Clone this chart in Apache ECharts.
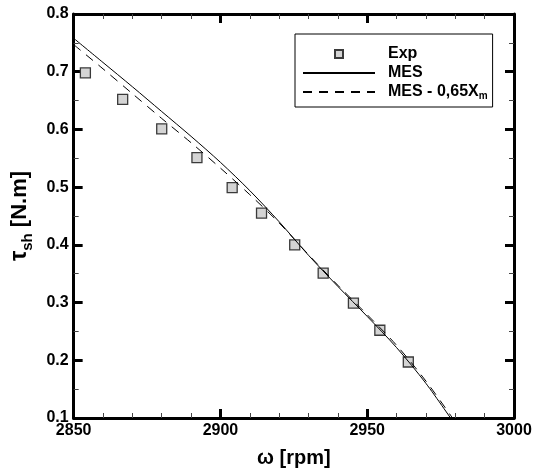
<!DOCTYPE html>
<html>
<head>
<meta charset="utf-8">
<script src="https://cdn.jsdelivr.net/npm/echarts@6/dist/echarts.min.js"></script>
<style>
  html, body { margin: 0; padding: 0; background: #fff; }
  #chart { width: 535px; height: 473px; }
</style>
</head>
<body>
<div id="chart"></div>
<script>
// Shaft torque vs. rotor speed: measurements and two model curves
const expSpeed  = [2854, 2866.7, 2880, 2892, 2904, 2914, 2925.3, 2935, 2945.3, 2954.3, 2964];
const expTorque = [0.698, 0.652, 0.601, 0.551, 0.499, 0.455, 0.400, 0.351, 0.299, 0.252, 0.197];

const mesSpeed  = [2850, 2860, 2870, 2880, 2890, 2900, 2910, 2920, 2930, 2940, 2950, 2960, 2970, 2980];
const mesTorque = [0.758, 0.716, 0.674, 0.631, 0.588, 0.543, 0.494, 0.440, 0.382, 0.328, 0.276, 0.222, 0.160, 0.088];

const mesXmSpeed  = [2850, 2860, 2870, 2880, 2890, 2900, 2910, 2920, 2930, 2940, 2950, 2960, 2970, 2980];
const mesXmTorque = [0.747, 0.705, 0.662, 0.619, 0.577, 0.533, 0.487, 0.438, 0.383, 0.330, 0.279, 0.226, 0.164, 0.093];

const xTicks = [2850, 2900, 2950, 3000];
const yTicks = [0.1, 0.2, 0.3, 0.4, 0.5, 0.6, 0.7, 0.8];

const pairs = (xs, ys) => xs.map((x, i) => [x, ys[i]]);

const FONT = '"Liberation Sans", Arial, Helvetica, sans-serif';

const frameAxis = {
  axisLine: { show: true, onZero: false, lineStyle: { color: '#000', width: 3 } },
  axisTick: { show: true, inside: true, length: 9, lineStyle: { color: '#000', width: 3 } },
  minorTick: { show: true, length: 5, lineStyle: { color: '#444', width: 1 } },
  splitLine: { show: false },
  minorSplitLine: { show: false }
};

const xBase = Object.assign({}, frameAxis, {
  type: 'value', min: xTicks[0], max: xTicks[xTicks.length - 1], interval: 50,
  minorTick: Object.assign({}, frameAxis.minorTick, { splitNumber: 5 })
});
const yBase = Object.assign({}, frameAxis, {
  type: 'value', min: yTicks[0], max: yTicks[yTicks.length - 1], interval: 0.1,
  minorTick: Object.assign({}, frameAxis.minorTick, { splitNumber: 2 })
});

const chart = echarts.init(document.getElementById('chart'), null, { renderer: 'canvas' });

chart.setOption({
  backgroundColor: '#fff',
  animation: false,
  textStyle: { fontFamily: FONT },
  grid: { left: 63, right: 21, top: 14, bottom: 46, containLabel: false },
  legend: {
    orient: 'vertical',
    left: 295, top: 34,
    padding: [11, 5, 6, 7],
    itemWidth: 72, itemHeight: 10, itemGap: 1,
    borderColor: '#000', borderWidth: 1,
    backgroundColor: '#fff',
    selectedMode: false,
    data: ['Exp', 'MES', 'MES - 0,65Xm'],
    formatter: name => name === 'MES - 0,65Xm' ? 'MES - 0,65X{sub|m}' : name,
    textStyle: {
      fontFamily: FONT, fontWeight: 'bold', fontSize: 16, color: '#000',
      lineHeight: 18,
      padding: [0, 0, 0, 8],
      rich: {
        sub: { fontFamily: FONT, fontWeight: 'bold', fontSize: 10, color: '#000',
               verticalAlign: 'bottom', lineHeight: 10 }
      }
    }
  },
  xAxis: [
    Object.assign({}, xBase, {
      position: 'bottom',
      name: 'ω [rpm]', nameLocation: 'middle', nameGap: 30,
      nameTextStyle: { fontFamily: FONT, fontWeight: 'bold', fontSize: 20, color: '#000' },
      axisLabel: { show: true, margin: 5, fontFamily: FONT, fontWeight: 'bold', fontSize: 16, color: '#000',
                   formatter: v => String(Math.round(v)) }
    }),
    Object.assign({}, xBase, { position: 'top', axisLabel: { show: false } })
  ],
  yAxis: [
    Object.assign({}, yBase, {
      position: 'left',
      name: '{t|τ}{s|sh}{n| [N.m]}', nameLocation: 'middle', nameGap: 35,
      nameTextStyle: {
        fontFamily: FONT, fontWeight: 'bold', fontSize: 22, color: '#000',
        rich: {
          t: { fontFamily: FONT, fontWeight: 'bold', fontSize: 23, color: '#000', verticalAlign: 'middle', lineHeight: 22 },
          s: { fontFamily: FONT, fontWeight: 'bold', fontSize: 15, color: '#000', verticalAlign: 'bottom', lineHeight: 32 },
          n: { fontFamily: FONT, fontWeight: 'bold', fontSize: 22, color: '#000', verticalAlign: 'middle', lineHeight: 22 }
        }
      },
      axisLabel: { show: true, margin: 5, fontFamily: FONT, fontWeight: 'bold', fontSize: 16, color: '#000',
                   formatter: v => v.toFixed(1) }
    }),
    Object.assign({}, yBase, { position: 'right', axisLabel: { show: false } })
  ],
  series: [
    {
      name: 'Exp', type: 'line', xAxisIndex: 0, yAxisIndex: 0,
      data: pairs(expSpeed, expTorque),
      symbol: 'rect', symbolSize: 10, showSymbol: true,
      lineStyle: { width: 0, opacity: 0 },
      itemStyle: { color: '#d4d4d4', borderColor: '#3a3a3a', borderWidth: 1.3 },
      z: 1
    },
    {
      name: 'MES', type: 'line', xAxisIndex: 0, yAxisIndex: 0,
      data: pairs(mesSpeed, mesTorque),
      symbol: 'none', smooth: 0.3,
      itemStyle: { color: 'rgba(0,0,0,0)' },
      lineStyle: { color: '#000', width: 1 },
      z: 3
    },
    {
      name: 'MES - 0,65Xm', type: 'line', xAxisIndex: 0, yAxisIndex: 0,
      data: pairs(mesXmSpeed, mesXmTorque),
      symbol: 'none', smooth: 0.3,
      itemStyle: { color: 'rgba(0,0,0,0)' },
      lineStyle: { color: '#000', width: 1, type: [9, 7] },
      z: 3
    }
  ]
});
</script>
</body>
</html>
